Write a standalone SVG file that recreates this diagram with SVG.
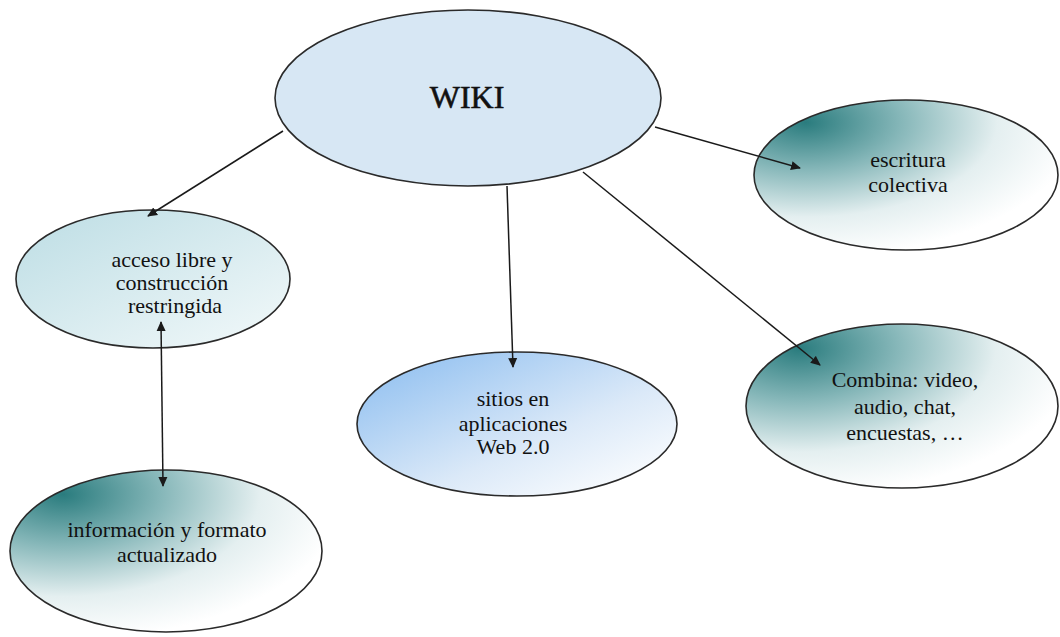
<svg xmlns="http://www.w3.org/2000/svg" width="1060" height="637" viewBox="0 0 1060 637">
<defs>
<style>
.node{stroke:#2a2a2a;stroke-width:1.6}
.lbl{font-family:"Liberation Serif","Times New Roman",serif;font-size:22px;fill:#111;text-anchor:middle}
.edge{stroke:#1a1a1a;stroke-width:1.5;fill:none}
</style>
<radialGradient id="teal" cx="0.17" cy="0.15" r="0.9" fx="0.17" fy="0.15">
<stop offset="0" stop-color="#2a7c7e"/>
<stop offset="0.35" stop-color="#86b7b9"/>
<stop offset="0.7" stop-color="#e4eff0"/>
<stop offset="1" stop-color="#ffffff"/>
</radialGradient>
<linearGradient id="cyan" x1="0" y1="0" x2="1" y2="1">
<stop offset="0" stop-color="#bcdde4"/>
<stop offset="1" stop-color="#f3f9fa"/>
</linearGradient>
<linearGradient id="blue" x1="0" y1="0.1" x2="0.9" y2="1">
<stop offset="0" stop-color="#8fbff0"/>
<stop offset="0.6" stop-color="#dbe9f8"/>
<stop offset="1" stop-color="#ffffff"/>
</linearGradient>
<marker id="arr" viewBox="0 0 10 10" refX="9" refY="5" markerWidth="10" markerHeight="10" markerUnits="userSpaceOnUse" orient="auto-start-reverse">
<path d="M0,0.5 L10,5 L0,9.5 z" fill="#1a1a1a"/>
</marker>
</defs>
<rect width="1060" height="637" fill="#ffffff"/>
<g id="wiki">
<ellipse class="node" cx="468" cy="98" rx="193" ry="88" fill="#d7e7f4"/>
<text class="lbl" x="467" y="108" style="font-size:32px;stroke:#111;stroke-width:0.6">WIKI</text>
</g>
<g id="escritura">
<ellipse class="node" cx="906" cy="175" rx="152" ry="75" fill="url(#teal)"/>
<text class="lbl" x="908" y="167">escritura</text>
<text class="lbl" x="908" y="192">colectiva</text>
</g>
<g id="acceso">
<ellipse class="node" cx="153" cy="279" rx="137" ry="69" fill="url(#cyan)"/>
<text class="lbl" x="172" y="267">acceso libre y</text>
<text class="lbl" x="172" y="290">construcción</text>
<text class="lbl" x="175" y="313">restringida</text>
</g>
<g id="sitios">
<ellipse class="node" cx="517" cy="424" rx="160" ry="72" fill="url(#blue)"/>
<text class="lbl" x="513" y="406">sitios en</text>
<text class="lbl" x="513" y="431">aplicaciones</text>
<text class="lbl" x="513" y="454">Web 2.0</text>
</g>
<g id="combina">
<ellipse class="node" cx="902" cy="406" rx="156" ry="82" fill="url(#teal)"/>
<text class="lbl" x="905" y="387">Combina: video,</text>
<text class="lbl" x="905" y="414">audio, chat,</text>
<text class="lbl" x="905" y="440">encuestas, …</text>
</g>
<g id="informacion">
<ellipse class="node" cx="166" cy="551" rx="156" ry="81" fill="url(#teal)"/>
<text class="lbl" x="167" y="537">información y formato</text>
<text class="lbl" x="167" y="562">actualizado</text>
</g>
<g id="connectors">
<line class="edge" x1="283" y1="131" x2="148" y2="216" marker-end="url(#arr)"/>
<line class="edge" x1="507" y1="186" x2="513" y2="367" marker-end="url(#arr)"/>
<line class="edge" x1="583" y1="172" x2="820" y2="365" marker-end="url(#arr)"/>
<line class="edge" x1="655" y1="127" x2="800" y2="168" marker-end="url(#arr)"/>
<line class="edge" x1="161" y1="322" x2="163" y2="486" marker-start="url(#arr)" marker-end="url(#arr)"/>
</g>
</svg>
